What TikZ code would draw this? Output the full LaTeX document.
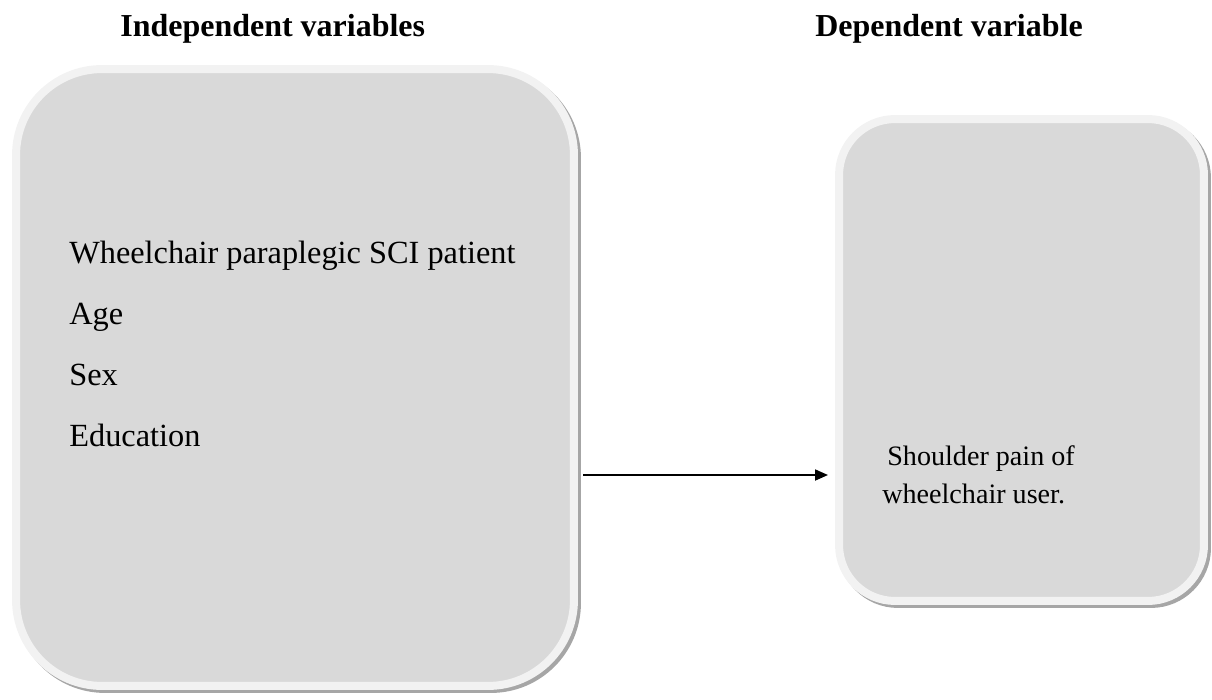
\documentclass[tikz,border=0pt]{standalone}
\usepackage{fontspec}
\setmainfont{Liberation Serif}
\usetikzlibrary{arrows.meta, positioning}
\definecolor{rimgray}{HTML}{F2F2F2}
\definecolor{boxgray}{HTML}{D9D9D9}
\definecolor{shadegray}{HTML}{A6A6A6}

\begin{document}
\begin{tikzpicture}[x=0.02cm,y=-0.02cm,
  every node/.style={font=\fontsize{18.4}{22}\selectfont,inner sep=0pt},
  panel/.style={draw=rimgray,line width=0.16cm,fill=boxgray,rounded corners=#1,
    preaction={draw=shadegray,fill=shadegray,transform canvas={shift={(0.06cm,-0.06cm)}}}},
  head/.style={anchor=base west,font=\fontsize{18.2}{22}\selectfont\bfseries},
  small/.style={anchor=base west,font=\fontsize{16}{19}\selectfont}]
  \useasboundingbox (0,0) rectangle (1212,699);
  % the two boxes
  \node[panel=1.72cm,minimum width=11.16cm,minimum height=12.34cm] (indep) at (295,377.5) {};
  \node[panel=1.12cm,minimum width=7.3cm,minimum height=9.64cm] (dep) at (1021.5,360) {};
  \node[head] (thead) at (120,37) {Independent variables};
  \node[head] (dhead) at (815,37) {Dependent variable};
  \foreach \i/\t in {0/Wheelchair paraplegic SCI patient,1/Age,2/Sex,3/Education}{
    \node[anchor=base west] (v\i) at (69,{263+61*\i}) {\t};
  }
  \node[small] (pain) at (887,465) {Shoulder pain of};
  \node[small] (user) at (882,503) {wheelchair user.};
  \coordinate (from) at (583,475);
  \coordinate (to) at (828,475);
  \draw[-{Triangle[length=0.26cm,width=0.22cm]},line width=0.036cm] (from) -- (to);
\end{tikzpicture}
\end{document}
